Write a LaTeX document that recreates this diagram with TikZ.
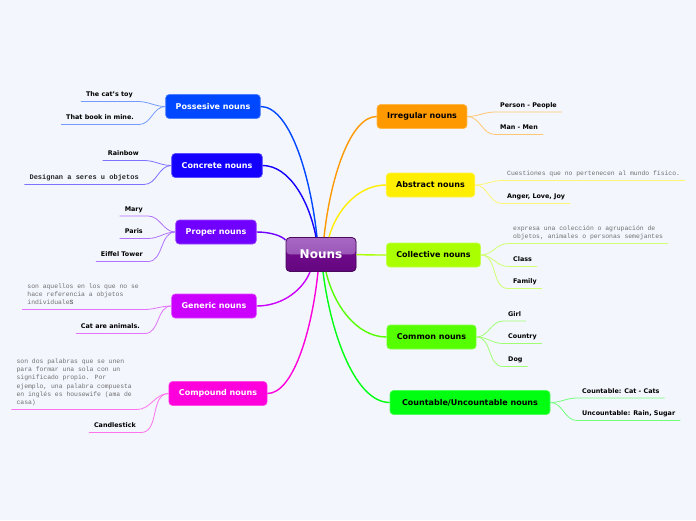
\documentclass[tikz,border=0pt]{standalone}
\usepackage{fontspec}
\setmainfont{DejaVu Sans}
\newfontfamily\monofont{Liberation Mono}
\usetikzlibrary{calc}
\definecolor{bg}{HTML}{F3F6FD}
\definecolor{cPoss}{HTML}{0048FF}
\definecolor{cConc}{HTML}{1400FF}
\definecolor{cProp}{HTML}{7000FF}
\definecolor{cGen}{HTML}{CC00FF}
\definecolor{cComp}{HTML}{FF00DD}
\definecolor{cIrr}{HTML}{FF9900}
\definecolor{cAbs}{HTML}{FFEE00}
\definecolor{cColl}{HTML}{AAFF00}
\definecolor{cComm}{HTML}{55FF00}
\definecolor{cCount}{HTML}{00FF11}
\definecolor{descgray}{HTML}{707070}
\definecolor{nounsborder}{HTML}{4A0A5C}
\definecolor{nounstopA}{HTML}{A868C4}
\definecolor{nounstopB}{HTML}{8C45AB}
\definecolor{nounsbotA}{HTML}{6E0A8A}
\definecolor{nounsbotB}{HTML}{64067E}
\newcommand\mmlink[3]{%
  \path ($(#2)!0.125!(#3)$) coordinate (tmpa)
        ($(#2)!0.5!(#3)$) coordinate (tmpb)
        ($(#3)!0.5!(#2)$) coordinate (tmpc);
  \draw[mainlink=#1] (#2) .. controls (tmpa |- tmpb) and (tmpc |- #3) .. (#3);}
\newcommand\mmrleaf[3]{% colour, main node, leaf node (right side)
  \draw[leaflink=#1] (#2.east) to[out=0,in=180] (#3.south west) -- (#3.south east);}
\newcommand\mmlleaf[3]{% colour, main node, leaf node (left side)
  \draw[leaflink=#1] (#2.west) to[out=180,in=0] (#3.south east) -- (#3.south west);}
\tikzset{
  mainnode/.style={draw=#1!70!white, fill=#1, rounded corners=3.5pt,
    minimum height=24pt, inner xsep=10pt, inner ysep=0pt, line width=0.6pt,
    font=\fontsize{8}{9.6}\selectfont\bfseries},
  leaf/.style={font=\fontsize{6.4}{8}\selectfont\bfseries, text=black,
    inner xsep=5pt, inner ysep=0pt, text depth=4.5pt},
  desc/.style={font=\fontsize{6.4}{8.3}\selectfont\monofont, text=descgray,
    align=left, inner xsep=5pt, inner ysep=0pt},
  mainlink/.style={draw=#1, line width=1.4pt},
  leaflink/.style={draw=#1!55!white, line width=0.8pt},
}
\begin{document}
\begin{tikzpicture}[x=1pt,y=-1pt]
\fill[bg] (0,0) rectangle (696,520);
\useasboundingbox (0,0) rectangle (696,520);

% central node
\node[draw=nounsborder, line width=0.8pt, rounded corners=4pt,
  minimum width=70pt, minimum height=34pt, inner sep=0pt,
  fill=nounsbotA, text=white, font=\fontsize{12}{14}\selectfont\bfseries,
  path picture={
    \shade[top color=nounstopA, bottom color=nounstopB]
      (path picture bounding box.north west) rectangle (path picture bounding box.east);
    \shade[top color=nounsbotA, bottom color=nounsbotB]
      (path picture bounding box.west) rectangle (path picture bounding box.south east);
  }] (nouns) at (321,254.5) {Nouns};

% main nodes
\node[mainnode=cPoss, text=white] (poss) at (213,106.5) {Possesive nouns};
\node[mainnode=cConc, text=white] (conc) at (217,165.5) {Concrete nouns};
\node[mainnode=cProp, text=white] (prop) at (216,232) {Proper nouns};
\node[mainnode=cGen, text=white] (gen) at (214,306) {Generic nouns};
\node[mainnode=cComp, text=white] (comp) at (218,393.5) {Compound nouns};
\node[mainnode=cIrr, text=black] (irr) at (422,116.5) {Irregular nouns};
\node[mainnode=cAbs, text=black] (abs) at (430.5,185) {Abstract nouns};
\node[mainnode=cColl, text=black] (coll) at (433.5,255) {Collective nouns};
\node[mainnode=cComm, text=black] (comm) at (431.5,337) {Common nouns};
\node[mainnode=cCount, text=black, minimum width=160pt] (count) at (470,402.5) {Countable/Uncountable nouns};

% attachment points on the central node
\coordinate (aPoss) at ([xshift=-4pt]nouns.north);
\coordinate (aConc) at ([xshift=-5pt]nouns.north);
\coordinate (aIrr) at ([xshift=3pt]nouns.north);
\coordinate (aAbs) at ([xshift=8pt]nouns.north);
\coordinate (aProp) at ([yshift=-3pt]nouns.north west);
\coordinate (aGen) at ([xshift=-11pt]nouns.south);
\coordinate (aComp) at ([xshift=-3pt]nouns.south);
\coordinate (aComm) at ([xshift=5pt]nouns.south);
\coordinate (aCount) at ([xshift=2pt]nouns.south);

\mmlink{cPoss}{aPoss}{poss.east}
\mmlink{cConc}{aConc}{conc.east}
\mmlink{cIrr}{aIrr}{irr.west}
\mmlink{cAbs}{aAbs}{abs.west}
\mmlink{cProp}{aProp}{prop.east}
\mmlink{cColl}{nouns.east}{coll.west}
\mmlink{cGen}{aGen}{gen.east}
\mmlink{cComp}{aComp}{comp.east}
\mmlink{cComm}{aComm}{comm.west}
\mmlink{cCount}{aCount}{count.west}

% left leaves
\node[leaf, anchor=south east] (p1) at (138,101.5) {The cat's toy};
\node[leaf, anchor=south east] (p2) at (139,124.5) {That book in mine.};
\node[leaf, anchor=south east] (c1) at (144,160.5) {Rainbow};
\node[leaf, anchor=south east, font=\fontsize{7}{8}\selectfont\monofont\bfseries, text=black!85] (c2) at (144,184.5) {Designan a seres u objetos};
\node[leaf, anchor=south east] (r1) at (148,216) {Mary};
\node[leaf, anchor=south east] (r2) at (148,238.5) {Paris};
\node[leaf, anchor=south east] (r3) at (148,261.5) {Eiffel Tower};
\node[desc, anchor=south east] (g1) at (144,309.5) {son aquellos en los que no se\\hace referencia a objetos\\individuale{\bfseries S}\rule[-4.5pt]{0pt}{0pt}};
\node[leaf, anchor=south east] (g2) at (145,333.5) {Cat are animals.};
\node[desc, anchor=south east] (k1) at (137,409.5) {son dos palabras que se unen\\para formar una sola con un\\significado propio. Por\\ejemplo, una palabra compuesta\\en inglés es housewife (ama de\\casa)\rule[-4.5pt]{0pt}{0pt}};
\node[leaf, anchor=south east] (k2) at (141,432.5) {Candlestick};

\mmlleaf{cPoss}{poss}{p1}
\mmlleaf{cPoss}{poss}{p2}
\mmlleaf{cConc}{conc}{c1}
\mmlleaf{cConc}{conc}{c2}
\mmlleaf{cProp}{prop}{r1}
\mmlleaf{cProp}{prop}{r2}
\mmlleaf{cProp}{prop}{r3}
\mmlleaf{cGen}{gen}{g1}
\mmlleaf{cGen}{gen}{g2}
\mmlleaf{cComp}{comp}{k1}
\mmlleaf{cComp}{comp}{k2}

% right leaves
\node[leaf, anchor=south west] (i1) at (495,112) {Person - People};
\node[leaf, anchor=south west] (i2) at (495,134.5) {Man - Men};
\node[desc, anchor=south west] (a1) at (502,180.5) {Cuestiones que no pertenecen al mundo físico.\rule[-4.5pt]{0pt}{0pt}};
\node[leaf, anchor=south west] (a2) at (502,203.5) {Anger, Love, Joy};
\node[desc, anchor=south west] (o1) at (508,243.5) {expresa una colección o agrupación de\\objetos, animales o personas semejantes\rule[-4.5pt]{0pt}{0pt}};
\node[leaf, anchor=south west] (o2) at (508,266.5) {Class};
\node[leaf, anchor=south west] (o3) at (508,288.5) {Family};
\node[leaf, anchor=south west] (m1) at (503,321) {Girl};
\node[leaf, anchor=south west] (m2) at (503,343.5) {Country};
\node[leaf, anchor=south west] (m3) at (503,366.5) {Dog};
\node[leaf, anchor=south west] (u1) at (577,398) {Countable: Cat - Cats};
\node[leaf, anchor=south west] (u2) at (577,420.5) {Uncountable: Rain, Sugar};

\mmrleaf{cIrr}{irr}{i1}
\mmrleaf{cIrr}{irr}{i2}
\mmrleaf{cAbs}{abs}{a1}
\mmrleaf{cAbs}{abs}{a2}
\mmrleaf{cColl}{coll}{o1}
\mmrleaf{cColl}{coll}{o2}
\mmrleaf{cColl}{coll}{o3}
\mmrleaf{cComm}{comm}{m1}
\mmrleaf{cComm}{comm}{m2}
\mmrleaf{cComm}{comm}{m3}
\mmrleaf{cCount}{count}{u1}
\mmrleaf{cCount}{count}{u2}
\end{tikzpicture}
\end{document}
